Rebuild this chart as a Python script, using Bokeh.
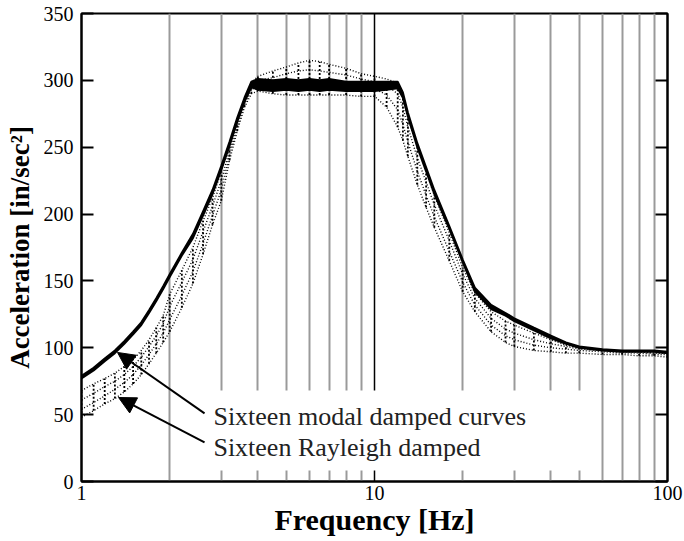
from bokeh.plotting import figure
from bokeh.models import (FixedTicker, LinearAxis, Arrow, NormalHead, ColumnDataSource,
                          PrintfTickFormatter)
from bokeh.core.properties import value
from bokeh.embed import file_html
from bokeh.resources import INLINE

# ---------------- data ----------------
freq = [1.0, 1.1, 1.2, 1.3, 1.4, 1.5, 1.6, 1.7, 1.8, 1.9, 2.0, 2.2, 2.4, 2.6, 2.8,
        3.0, 3.2, 3.4, 3.6, 3.8, 4.0, 4.5, 5.0, 5.5, 6.0, 6.5, 7.0, 8.0, 9.0, 10.0,
        11.0, 12.0, 12.5, 13.0, 14.0, 15.0, 16.0, 18.0, 20.0, 22.0, 25.0, 28.0, 30.0,
        35.0, 40.0, 45.0, 50.0, 60.0, 70.0, 80.0, 90.0, 100.0]

# Sixteen modal damped curves (upper / lower edge of the solid band)
modal_upper = [79, 85, 92, 98, 105, 112, 119, 128, 137, 146, 155, 171, 185, 202, 218,
               236, 254, 272, 287, 299, 301, 300, 301, 300, 301, 300, 301, 299, 299, 299,
               299, 299, 291, 276, 253, 235, 218, 191, 166, 145, 132, 126, 122,
               115, 109, 104, 101, 99, 98, 98, 98, 97]
modal_lower = [77, 83, 90, 96, 103, 110, 117, 126, 135, 144, 153, 169, 182, 199, 215,
               233, 251, 269, 284, 295, 293, 292, 293, 292, 293, 292, 293, 292, 292, 292,
               293, 294, 287, 273, 250, 232, 215, 189, 164, 142, 129, 124, 120,
               113, 107, 103, 100, 98, 97, 97, 97, 96]

# Sixteen Rayleigh damped curves (dotted band)
rayleigh_1 = [48, 53, 58, 62, 67, 73, 80, 88, 96, 104, 112, 130, 148, 170, 192,
              210, 240, 262, 280, 290, 292, 290, 289, 289, 289, 289, 289, 289, 288, 288,
              280, 265, 255, 243, 222, 205, 190, 165, 142, 127, 112, 104, 101,
              98, 97, 96, 96, 95, 95, 94, 94, 93]
rayleigh_2 = [54, 59, 64, 69, 74, 80, 87, 95, 103, 111, 121, 139, 157, 178, 199,
              218, 244, 265, 282, 293, 296, 297, 298, 299, 300, 300, 299, 297, 295, 294,
              289, 278, 267, 254, 232, 214, 198, 172, 149, 132, 117, 109, 106,
              102, 100, 99, 98, 97, 96, 96, 95, 95]
rayleigh_3 = [61, 66, 71, 75, 80, 86, 93, 101, 109, 118, 131, 149, 166, 187, 206,
              225, 248, 268, 284, 296, 300, 302, 305, 307, 308, 307, 306, 304, 301, 299,
              296, 290, 280, 265, 242, 224, 207, 180, 155, 137, 122, 114, 111,
              106, 103, 101, 99, 98, 97, 97, 96, 96]
rayleigh_4 = [68, 73, 77, 81, 86, 91, 98, 106, 115, 124, 140, 158, 175, 195, 212,
              232, 252, 270, 285, 298, 303, 307, 310, 313, 315, 314, 312, 309, 305, 303,
              301, 298, 288, 272, 250, 232, 214, 186, 160, 141, 127, 120, 117,
              111, 106, 102, 100, 98, 97, 97, 96, 96]

y_ticks = [0, 50, 100, 150, 200, 250, 300, 350]
x_ticks = [1, 10, 100]
x_minor = [2, 3, 4, 5, 6, 7, 8, 9, 20, 30, 40, 50, 60, 70, 80, 90]
labels = ["Sixteen modal damped curves", "Sixteen Rayleigh damped"]

FONT = "Liberation Serif"

p = figure(width=684, height=541, x_axis_type="log", x_range=(1, 100), y_range=(0, 350),
           output_backend="svg", toolbar_location=None,
           min_border_left=81, min_border_right=17, min_border_top=13, min_border_bottom=60,
           background_fill_color="white", border_fill_color="white")

p.outline_line_color = "black"
p.outline_line_width = 2

# grid
p.ygrid.visible = False
p.xgrid.ticker = FixedTicker(ticks=x_ticks, minor_ticks=x_minor)
p.xgrid.grid_line_color = "black"
p.xgrid.grid_line_width = 1.5
p.xgrid.minor_grid_line_color = "#9a9a9a"
p.xgrid.minor_grid_line_width = 2

# axes
xa = p.xaxis[0]
xa.ticker = FixedTicker(ticks=x_ticks, minor_ticks=x_minor)
xa.formatter = PrintfTickFormatter(format="%d")
xa.major_tick_in = 0
xa.major_tick_out = 0
xa.minor_tick_in = 0
xa.minor_tick_out = 0
xa.axis_line_color = "black"
xa.axis_line_width = 2
xa.major_label_text_font = FONT
xa.major_label_text_font_size = "20px"
xa.major_label_text_color = "black"
xa.major_label_standoff = 4
xa.axis_label = "Frequency [Hz]"
xa.axis_label_text_font = FONT
xa.axis_label_text_font_style = "bold"
xa.axis_label_text_font_size = "30px"
xa.axis_label_text_color = "black"
xa.axis_label_standoff = 0

ya = p.yaxis[0]
ya.ticker = FixedTicker(ticks=y_ticks)
ya.major_tick_in = 12
ya.major_tick_out = 0
ya.minor_tick_in = 0
ya.minor_tick_out = 0
ya.major_tick_line_width = 2
ya.axis_line_width = 2
ya.major_label_text_font = FONT
ya.major_label_text_font_size = "20px"
ya.major_label_text_color = "black"
ya.major_label_standoff = 8
ya.axis_label = "Acceleration [in/sec²]"
ya.axis_label_text_font = FONT
ya.axis_label_text_font_style = "bold"
ya.axis_label_text_font_size = "27px"
ya.axis_label_text_color = "black"
ya.axis_label_standoff = 6

ra = LinearAxis(ticker=FixedTicker(ticks=y_ticks), major_tick_in=12, major_tick_out=0,
                minor_tick_in=0, minor_tick_out=0, major_tick_line_width=2,
                axis_line_width=2, major_label_standoff=0,
                major_label_overrides={t: "" for t in y_ticks})
p.add_layout(ra, "right")

# white box behind annotation text (covers the grid lines)
p.quad(left=[2.45], right=[55], bottom=[8.2], top=[68], fill_color="white", line_color=None)

src = ColumnDataSource(dict(f=freq, mu=modal_upper, ml=modal_lower,
                            r1=rayleigh_1, r2=rayleigh_2, r3=rayleigh_3, r4=rayleigh_4))

# Rayleigh band: dotted curves and dotted vertical hatching
for col in ["r1", "r2", "r3", "r4"]:
    p.line("f", col, source=src, line_color="black", line_width=1.4, line_dash="1 2")
p.segment(x0="f", y0="r1", x1="f", y1="r4", source=src, line_color="black",
          line_width=1.8, line_dash="2 2")

# modal band: solid black
p.varea(x="f", y1="ml", y2="mu", source=src, fill_color="black")
p.line("f", "mu", source=src, line_color="black", line_width=2)
p.line("f", "ml", source=src, line_color="black", line_width=2)

# annotations
p.add_layout(Arrow(end=NormalHead(size=17, fill_color="black", line_color="black"),
                   x_start=2.63, y_start=50.9, x_end=1.327, y_end=96.5,
                   line_color="black", line_width=2))
p.add_layout(Arrow(end=NormalHead(size=17, fill_color="black", line_color="black"),
                   x_start=2.63, y_start=29.2, x_end=1.338, y_end=62.8,
                   line_color="black", line_width=2))
p.text(x=[2.82, 2.82], y=[48.6, 25.4], text=labels, text_font=value(FONT),
       text_font_size="26px", text_baseline="middle", text_align="left",
       text_color="#222222")

open("out.html", "w").write(file_html(p, INLINE))
